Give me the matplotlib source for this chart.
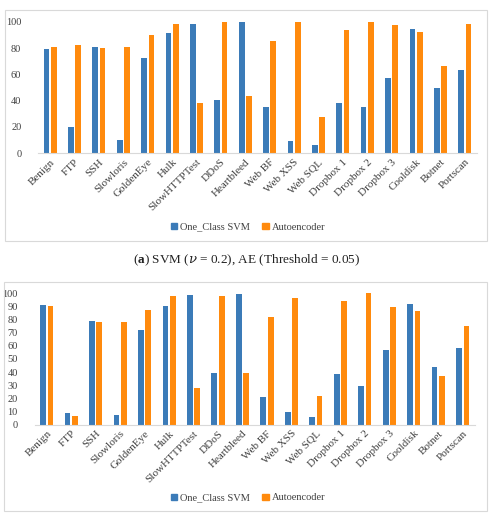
import matplotlib
matplotlib.use("Agg")
import matplotlib.pyplot as plt
from matplotlib.patches import Rectangle, Patch

categories = ["Benign", "FTP", "SSH", "Slowloris", "GoldenEye", "Hulk", "SlowHTTPTest",
              "DDoS", "Heartbleed", "Web BF", "Web XSS", "Web SQL", "Dropbox 1",
              "Dropbox 2", "Dropbox 3", "Cooldisk", "Botnet", "Portscan"]

svm_a = [79.5, 20, 80.5, 10.1, 72.7, 91.1, 98.2, 40.5, 99.4, 35.4, 9.6, 6.6, 38.5, 35, 57, 94.4, 49.6, 63]
ae_a = [80.8, 82.5, 80, 80.5, 89.6, 98.2, 38.5, 99.4, 43.3, 85, 99.4, 27.6, 93.7, 99.7, 97.7, 92.2, 66.3, 98.2]

svm_b = [90.9, 8.9, 79.2, 7.1, 71.8, 90.6, 98.5, 39.1, 99.5, 21.1, 9.4, 5.8, 38.6, 29.4, 57.1, 91.9, 44.2, 58.6]
ae_b = [90.4, 6.6, 77.9, 77.9, 87.6, 98.2, 27.9, 97.7, 39.3, 82, 96.4, 22.1, 94.2, 100, 89.6, 86.5, 37.1, 75.1]

ticks_a = [0, 20, 40, 60, 80, 100]
ticks_b = list(range(0, 101, 10))

caption_a = "SVM ($\\nu$ = 0.2), AE (Threshold = 0.05)"

BLUE = "#3b7bb8"
ORANGE = "#ff8a0d"
W, H = 492, 514

plt.rcParams['font.family'] = ['Liberation Serif', 'DejaVu Serif']
plt.rcParams['mathtext.fontset'] = 'dejavuserif'

fig = plt.figure(figsize=(W / 100, H / 100), dpi=100)


def fx(px):
    return px / W


def fy(py):
    return 1 - py / H


def panel(box, axrect, svm, ae, yticks, legend_y):
    bx0, by0, bx1, by1 = box
    fig.patches.append(Rectangle((fx(bx0), fy(by1)), fx(bx1 - bx0), (by1 - by0) / H,
                                 transform=fig.transFigure, fill=False,
                                 edgecolor="#d9d9d9", linewidth=0.8))
    l, t, r, b = axrect
    ax = fig.add_axes([fx(l), fy(b), fx(r - l), (b - t) / H])
    x = list(range(len(categories)))
    w = 0.235
    ax.bar([i - 0.15 for i in x], svm, width=w, color=BLUE, label="One_Class SVM", zorder=2)
    ax.bar([i + 0.15 for i in x], ae, width=w, color=ORANGE, label="Autoencoder", zorder=2)
    ax.set_xlim(-0.5, len(categories) - 0.5)
    ax.set_ylim(0, 100)
    ax.set_yticks(yticks)
    ax.set_xticks(x)
    ax.set_xticklabels(categories, rotation=45, ha='right', rotation_mode='anchor', fontsize=8,
                       color="#404040")
    ax.tick_params(axis='y', length=0, labelsize=7.5, labelcolor="#404040", pad=12)
    ax.tick_params(axis='x', length=0, pad=3)
    for s in ['top', 'right', 'left']:
        ax.spines[s].set_visible(False)
    ax.spines['bottom'].set_color("#d9d9d9")
    ax.spines['bottom'].set_linewidth(0.8)
    handles = [Patch(color=BLUE, label="One_Class SVM"), Patch(color=ORANGE, label="Autoencoder")]
    fig.legend(handles=handles, loc='center', bbox_to_anchor=(fx(248), fy(legend_y)), ncol=2,
               frameon=False, fontsize=7.5, handlelength=0.6, handleheight=0.6,
               handletextpad=0.3, columnspacing=1.2, labelcolor="#404040")
    return ax


panel((5, 10, 487, 241), (38, 21.7, 477, 153.3), svm_a, ae_a, ticks_a, 227)
panel((4, 282, 487, 511), (34.5, 293.3, 475, 424.7), svm_b, ae_b, ticks_b, 498)

# caption: "(a) ..." with bold "a", centred
cy = fy(260)
t1 = fig.text(0, cy, "(", ha='left', va='center', fontsize=9.5, color="#222222")
fig.canvas.draw()
r = fig.canvas.get_renderer()
w1 = t1.get_window_extent(r).width
t2 = fig.text(0, cy, "a", ha='left', va='center', fontsize=9.5, fontweight='bold', color="#222222")
w2 = t2.get_window_extent(r).width
t3 = fig.text(0, cy, ") " + caption_a, ha='left', va='center', fontsize=9.5, color="#222222")
w3 = t3.get_window_extent(r).width
x0 = 247 - (w1 + w2 + w3) / 2
t1.set_x(x0 / W)
t2.set_x((x0 + w1) / W)
t3.set_x((x0 + w1 + w2) / W)

fig.savefig("out.png", dpi=100)
